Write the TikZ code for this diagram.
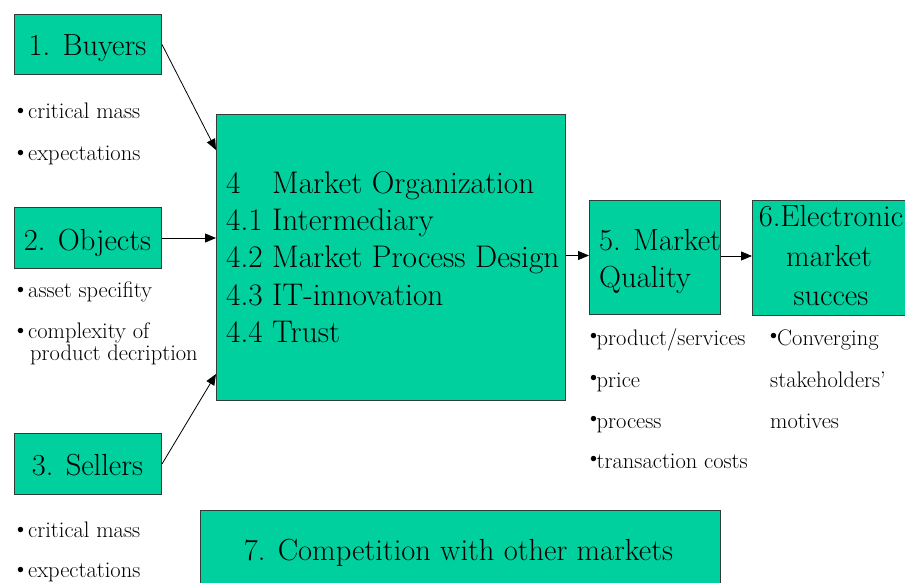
\documentclass[tikz,border=0pt]{standalone}
\usepackage{fontspec}
\usepackage{graphicx}
\setmainfont{Latin Modern Roman}
\usetikzlibrary{arrows.meta}
\definecolor{boxgreen}{RGB}{0,208,158}
\definecolor{boxline}{RGB}{50,60,55}
\newcommand{\bul}[2]{\makebox[#1][l]{\raisebox{#2}{\scalebox{0.67}{$\bullet$}}}}
\begin{document}
\begin{tikzpicture}[x=1pt,y=-1pt,
  box/.style={draw=boxline, line width=1pt, fill=boxgreen, inner sep=0pt, anchor=north west},
  bigtxt/.style={font=\fontsize{30.5}{36}\selectfont, inner sep=0pt},
  midtxt/.style={font=\fontsize{31.3}{36}\selectfont, inner sep=0pt, anchor=base west},
  smalltxt/.style={font=\fontsize{22.5}{23}\selectfont, inner sep=0pt, anchor=base west},
  arr/.style={-{Triangle[length=11pt,width=9pt]}, line width=0.8pt}]
\clip (0,0) rectangle (905,582);
\fill[white] (0,0) rectangle (905,582);
% boxes
\node[box, minimum width=147pt, minimum height=60pt] (b1) at (14,14) {};
\node[box, minimum width=147pt, minimum height=61pt] (b2) at (14,207) {};
\node[box, minimum width=147pt, minimum height=61pt] (b3) at (14,433) {};
\node[box, minimum width=349pt, minimum height=286pt] (b4) at (216,114) {};
\node[box, minimum width=131pt, minimum height=114pt] (b5) at (589,200) {};
\node[box, minimum width=160pt, minimum height=115pt] (b6) at (752,200) {};
\node[box, minimum width=520pt, minimum height=80pt] (b7) at (200,510) {};
% box texts
\node[bigtxt, anchor=base] (t1) at (87.5,55) {1. Buyers};
\node[bigtxt, anchor=base] (t2) at (87.5,250) {2. Objects};
\node[bigtxt, anchor=base] (t3) at (87.5,475) {3. Sellers};
\node[midtxt] (t41) at (226,193) {\makebox[46pt][l]{4}Market Organization};
\node[midtxt] (t42) at (226,230) {4.1 Intermediary};
\node[midtxt] (t43) at (226,267) {4.2 Market Process Design};
\node[midtxt] (t44) at (226,305) {4.3 IT-innovation};
\node[midtxt] (t45) at (226,342) {4.4 Trust};
\node[bigtxt, anchor=base west] (t51) at (599,250) {5. Market};
\node[bigtxt, anchor=base west] (t52) at (599,287) {Quality};
\node[bigtxt, anchor=base] (t61) at (831,226) {6.Electronic};
\node[bigtxt, anchor=base] (t62) at (829,266) {market};
\node[bigtxt, anchor=base] (t63) at (831,305) {succes};
\node[bigtxt, anchor=base] (t7) at (458.5,560) {7. Competition with other markets};
% bullet texts
\node[smalltxt] (s11) at (17,118) {\bul{11pt}{3.7pt}critical mass};
\node[smalltxt] (s12) at (17,160) {\bul{11pt}{3.7pt}expectations};
\node[smalltxt] (s21) at (17,297) {\bul{11pt}{3.7pt}asset specifity};
\node[smalltxt] (s22) at (17,338) {\bul{11pt}{3.7pt}complexity of};
\node[smalltxt] (s23) at (30,360) {product decription};
\node[smalltxt] (s31) at (17,537) {\bul{11pt}{3.7pt}critical mass};
\node[smalltxt] (s32) at (17,577) {\bul{11pt}{3.7pt}expectations};
\node[smalltxt] (s51) at (590,345) {\bul{6.5pt}{5.5pt}product/services};
\node[smalltxt] (s52) at (590,387) {\bul{6.5pt}{5.5pt}price};
\node[smalltxt] (s53) at (590,428) {\bul{6.5pt}{5.5pt}process};
\node[smalltxt] (s54) at (590,468) {\bul{6.5pt}{5.5pt}transaction costs};
\node[smalltxt] (s61) at (770,345) {\bul{7pt}{5.5pt}Converging};
\node[smalltxt] (s62) at (770,387) {stakeholders’};
\node[smalltxt] (s63) at (770,428) {motives};
% connectors
\draw[arr] (b1.east) -- ([yshift=-36pt]b4.north west);
\draw[arr] (b2.east) -- (b2.east -| b4.west);
\draw[arr] (b3.east) -- ([yshift=27pt]b4.south west);
\draw[arr] ([yshift=2pt]b5.west -| b4.east) -- ([yshift=2pt]b5.west);
\draw[arr] ([yshift=2pt]b6.west -| b5.east) -- ([yshift=2pt]b6.west);
\end{tikzpicture}
\end{document}
